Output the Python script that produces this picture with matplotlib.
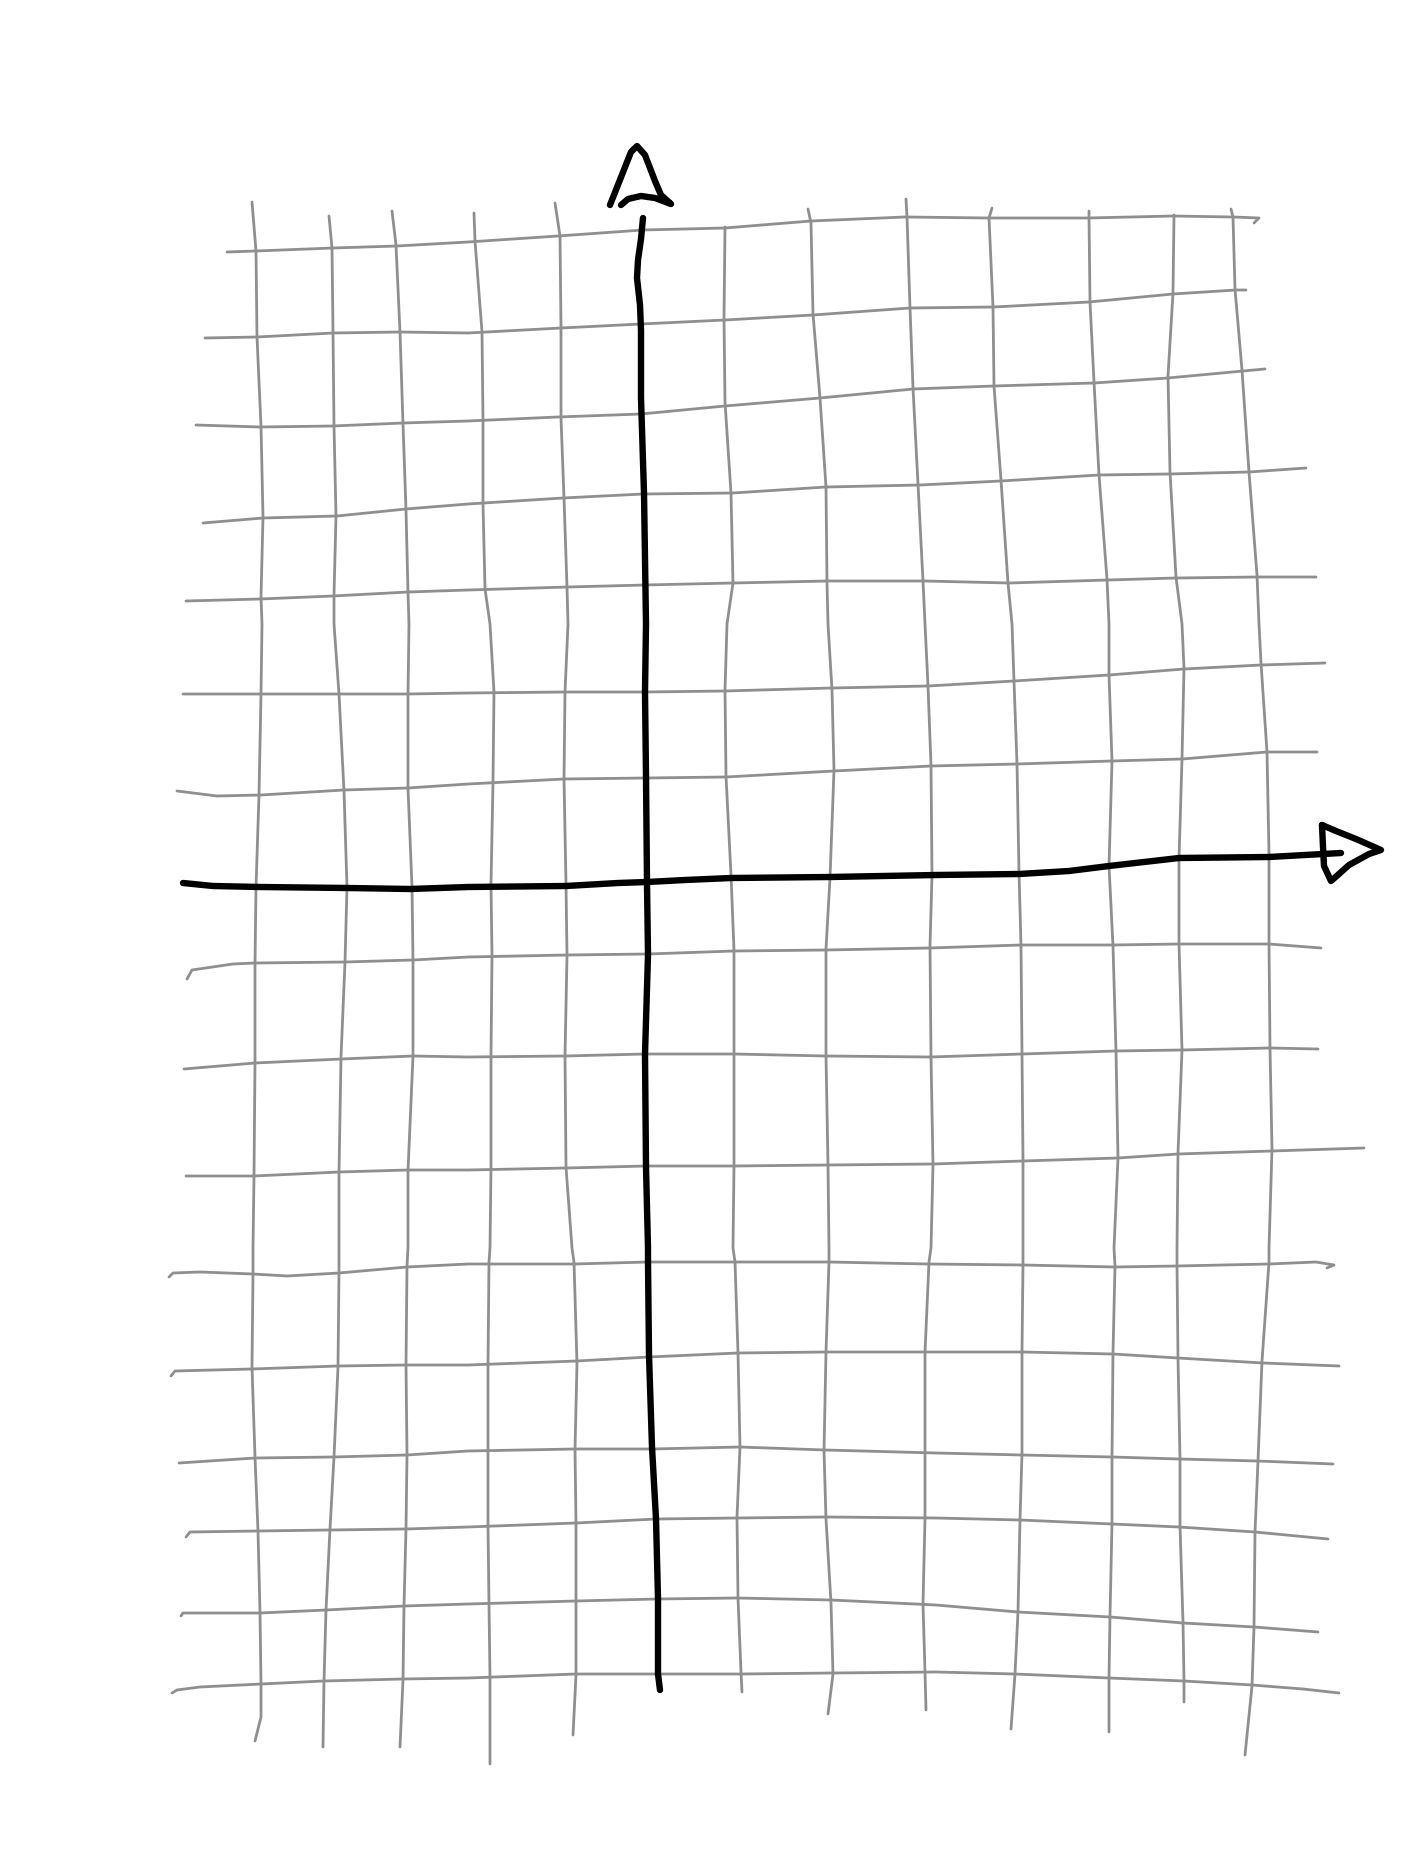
"""Hand-drawn coordinate grid with x and y axes."""

import matplotlib

matplotlib.use("Agg")
import matplotlib.pyplot as plt


WIDTH_PX = 1404
HEIGHT_PX = 1872
DPI = 100

GRID_COLOR = "#8f8f8f"
AXIS_COLOR = "black"

# vertical grid strokes, (x, y) in picture pixels, top to bottom
vertical_lines = [
    [(252, 202), (256, 251), (257, 337), (261, 426), (263, 517), (261, 597), (262, 624),
     (261, 694), (259, 795), (256, 887), (255, 964), (255, 1062), (254, 1176), (253, 1248),
     (253, 1274), (252, 1367), (255, 1457), (258, 1531), (260, 1612), (261, 1684),
     (261, 1717), (255, 1741)],
    [(329, 216), (332, 248), (333, 332), (334, 426), (336, 516), (334, 595), (334, 624),
     (339, 694), (344, 791), (347, 887), (345, 962), (341, 1057), (339, 1173), (339, 1248),
     (339, 1272), (338, 1367), (334, 1457), (330, 1529), (326, 1610), (324, 1681),
     (323, 1747)],
    [(392, 211), (396, 245), (400, 332), (403, 424), (406, 510), (408, 593), (409, 624),
     (408, 694), (408, 788), (412, 887), (413, 961), (413, 1056), (408, 1171), (408, 1248),
     (407, 1266), (406, 1365), (407, 1455), (406, 1529), (404, 1606), (403, 1680),
     (400, 1747)],
    [(474, 213), (475, 241), (482, 332), (483, 420), (483, 504), (485, 589), (490, 624),
     (494, 692), (493, 782), (491, 884), (492, 956), (491, 1056), (491, 1167), (490, 1248),
     (489, 1262), (488, 1365), (488, 1451), (488, 1526), (489, 1604), (490, 1678),
     (490, 1764)],
    [(555, 203), (560, 236), (561, 328), (561, 418), (564, 498), (567, 587), (568, 624),
     (565, 692), (564, 779), (566, 884), (567, 956), (565, 1056), (566, 1167), (572, 1248),
     (574, 1262), (577, 1364), (575, 1449), (576, 1523), (576, 1600), (576, 1675),
     (573, 1735)],
    [(725, 227), (724, 319), (725, 402), (731, 493), (733, 583), (727, 624), (725, 690),
     (726, 776), (731, 875), (734, 950), (734, 1054), (734, 1165), (733, 1248), (735, 1262),
     (738, 1353), (740, 1447), (737, 1517), (738, 1598), (741, 1672), (742, 1692)],
    [(808, 209), (811, 223), (813, 314), (820, 398), (826, 487), (827, 583), (828, 624),
     (832, 690), (834, 770), (830, 878), (826, 949), (826, 1056), (828, 1165), (829, 1248),
     (829, 1262), (826, 1352), (824, 1451), (826, 1519), (831, 1603), (833, 1674),
     (828, 1714)],
    [(906, 199), (907, 217), (910, 308), (913, 388), (918, 484), (923, 581), (925, 624),
     (928, 686), (931, 765), (932, 875), (930, 946), (931, 1057), (933, 1165), (931, 1248),
     (929, 1262), (925, 1352), (925, 1453), (925, 1519), (923, 1604), (925, 1672),
     (926, 1710)],
    [(992, 208), (989, 218), (993, 307), (994, 386), (1001, 480), (1008, 583), (1012, 624),
     (1014, 681), (1017, 764), (1019, 872), (1021, 946), (1022, 1054), (1023, 1161),
     (1023, 1248), (1023, 1264), (1022, 1352), (1022, 1453), (1020, 1520), (1018, 1612),
     (1015, 1674), (1011, 1729)],
    [(1089, 211), (1089, 217), (1090, 302), (1094, 382), (1099, 475), (1107, 579),
     (1109, 624), (1109, 675), (1112, 761), (1109, 866), (1113, 946), (1116, 1051),
     (1118, 1158), (1114, 1248), (1115, 1266), (1113, 1353), (1112, 1457), (1112, 1523),
     (1110, 1616), (1109, 1678), (1109, 1732)],
    [(1174, 215), (1173, 293), (1168, 376), (1170, 472), (1176, 577), (1182, 624),
     (1184, 668), (1182, 759), (1179, 859), (1179, 944), (1182, 1050), (1178, 1153),
     (1177, 1248), (1177, 1264), (1178, 1358), (1180, 1459), (1180, 1526), (1183, 1622),
     (1184, 1681), (1184, 1702)],
    [(1231, 209), (1233, 217), (1235, 289), (1242, 370), (1249, 472), (1257, 575),
     (1259, 624), (1261, 663), (1267, 752), (1269, 854), (1269, 944), (1270, 1048),
     (1272, 1149), (1269, 1248), (1269, 1262), (1262, 1361), (1258, 1461), (1255, 1532),
     (1254, 1627), (1252, 1686), (1245, 1755)],
]

# horizontal grid strokes, (x, y) in picture pixels, left to right
horizontal_lines = [
    [(227, 252), (256, 251), (333, 248), (397, 246), (468, 242), (558, 236), (643, 230),
     (725, 228), (811, 221), (905, 217), (989, 218), (1088, 218), (1173, 216), (1233, 217),
     (1259, 218), (1254, 223)],
    [(205, 338), (257, 337), (333, 333), (400, 332), (468, 333), (561, 328), (641, 324),
     (725, 320), (813, 315), (910, 308), (994, 307), (1089, 302), (1173, 294), (1236, 290),
     (1246, 290)],
    [(196, 425), (260, 427), (333, 426), (403, 423), (468, 421), (558, 417), (641, 414),
     (725, 406), (820, 398), (913, 389), (994, 386), (1094, 383), (1168, 378), (1243, 371),
     (1265, 369)],
    [(203, 523), (263, 518), (337, 516), (406, 509), (468, 504), (563, 498), (643, 494),
     (733, 493), (826, 487), (920, 485), (1001, 481), (1099, 475), (1169, 474), (1249, 472),
     (1306, 468)],
    [(186, 601), (260, 599), (333, 596), (408, 592), (468, 590), (568, 587), (645, 585),
     (733, 583), (828, 581), (925, 581), (1009, 583), (1108, 580), (1176, 578), (1258, 577),
     (1316, 577)],
    [(183, 694), (261, 694), (339, 694), (408, 694), (468, 693), (565, 692), (645, 692),
     (725, 691), (832, 688), (928, 686), (1014, 681), (1109, 675), (1184, 669), (1261, 665),
     (1325, 663)],
    [(177, 791), (217, 796), (261, 795), (344, 790), (408, 788), (468, 784), (564, 779),
     (646, 778), (726, 777), (834, 771), (931, 766), (1017, 764), (1112, 761), (1182, 759),
     (1267, 752), (1317, 752)],
    [(187, 979), (192, 970), (233, 964), (255, 963), (345, 962), (413, 960), (468, 957),
     (567, 955), (648, 954), (734, 951), (826, 950), (930, 948), (1021, 945), (1113, 945),
     (1179, 944), (1269, 944), (1321, 948)],
    [(184, 1069), (255, 1063), (341, 1059), (413, 1056), (468, 1057), (565, 1056),
     (645, 1054), (734, 1054), (826, 1056), (931, 1057), (1022, 1054), (1116, 1051),
     (1182, 1050), (1270, 1048), (1318, 1049)],
    [(186, 1176), (254, 1176), (339, 1172), (408, 1170), (468, 1170), (566, 1168),
     (646, 1166), (734, 1166), (828, 1165), (933, 1164), (1023, 1161), (1118, 1158),
     (1178, 1154), (1272, 1151), (1364, 1148)],
    [(169, 1277), (173, 1273), (200, 1272), (253, 1274), (287, 1276), (339, 1273),
     (407, 1267), (468, 1264), (574, 1264), (648, 1262), (735, 1262), (829, 1262),
     (928, 1264), (1023, 1265), (1115, 1267), (1177, 1266), (1269, 1264), (1316, 1262),
     (1334, 1265), (1327, 1268)],
    [(171, 1376), (175, 1371), (252, 1369), (338, 1366), (406, 1365), (468, 1365),
     (577, 1361), (649, 1357), (738, 1353), (826, 1352), (936, 1352), (1022, 1352),
     (1113, 1354), (1178, 1358), (1263, 1363), (1339, 1366)],
    [(179, 1463), (255, 1458), (334, 1457), (407, 1455), (468, 1451), (575, 1449),
     (652, 1449), (740, 1447), (825, 1450), (936, 1453), (1022, 1455), (1112, 1457),
     (1179, 1459), (1258, 1461), (1333, 1464)],
    [(186, 1537), (190, 1532), (258, 1531), (330, 1530), (406, 1529), (468, 1527),
     (576, 1523), (656, 1519), (737, 1518), (826, 1517), (936, 1518), (1020, 1520),
     (1112, 1524), (1179, 1527), (1255, 1532), (1328, 1539)],
    [(181, 1616), (183, 1613), (260, 1613), (326, 1610), (404, 1606), (468, 1604),
     (576, 1601), (657, 1599), (737, 1598), (831, 1600), (936, 1605), (1018, 1612),
     (1110, 1617), (1183, 1623), (1254, 1627), (1318, 1632)],
    [(172, 1693), (177, 1690), (200, 1687), (261, 1684), (324, 1681), (403, 1679),
     (468, 1678), (576, 1674), (658, 1674), (741, 1674), (833, 1673), (936, 1672),
     (1015, 1674), (1109, 1678), (1184, 1681), (1252, 1685), (1303, 1689), (1339, 1693)],
]

# main axes strokes
y_axis = [(643, 218), (641, 239), (638, 260), (637, 278), (640, 305), (641, 330),
          (641, 398), (644, 493), (646, 624), (645, 692), (646, 776), (647, 883),
          (648, 955), (645, 1054), (646, 1167), (648, 1248), (648, 1262), (649, 1355),
          (652, 1447), (656, 1519), (658, 1598), (658, 1674), (660, 1690)]
x_axis = [(183, 883), (213, 886), (260, 887), (347, 888), (410, 889), (468, 887),
          (566, 886), (618, 883), (647, 882), (685, 880), (731, 878), (830, 877),
          (936, 875), (1019, 874), (1069, 871), (1109, 866), (1179, 858), (1269, 857),
          (1341, 853)]

# open arrowheads
y_arrow_head = [(610, 205), (631, 152), (637, 146), (645, 155), (655, 181), (661, 195),
                (671, 204), (655, 198), (641, 196), (628, 199), (621, 205)]
x_arrow_head = [(1322, 825), (1336, 831), (1356, 839), (1381, 850), (1369, 854),
                (1349, 865), (1339, 874), (1331, 881), (1324, 866), (1323, 847),
                (1322, 825)]


def draw_stroke(ax, points, color, linewidth):
    xs = [p[0] for p in points]
    ys = [p[1] for p in points]
    ax.plot(xs, ys, color=color, linewidth=linewidth,
            solid_capstyle="round", solid_joinstyle="round")


fig = plt.figure(figsize=(WIDTH_PX / DPI, HEIGHT_PX / DPI), dpi=DPI)
fig.patch.set_facecolor("white")
ax = fig.add_axes([0, 0, 1, 1])
ax.set_xlim(0, WIDTH_PX)
ax.set_ylim(HEIGHT_PX, 0)
ax.axis("off")

for line in vertical_lines + horizontal_lines:
    draw_stroke(ax, line, GRID_COLOR, 2.0)

for line in (y_axis, x_axis, y_arrow_head, x_arrow_head):
    draw_stroke(ax, line, AXIS_COLOR, 4.6)

fig.savefig("out.png", dpi=DPI, facecolor="white")
